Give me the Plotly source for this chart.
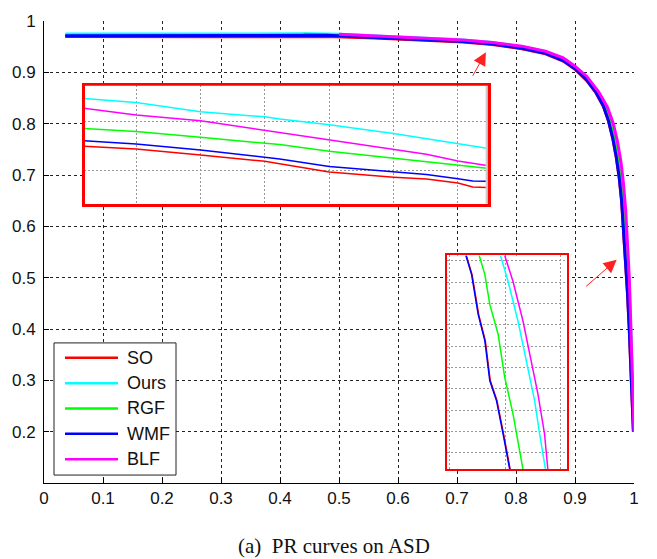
import plotly.graph_objects as go

# ---------------- data ----------------
names = ["SO", "Ours", "RGF", "WMF", "BLF"]
colors = ["#ff0000", "#00ffff", "#00ff00", "#0000ff", "#ff00ff"]

# main PR curves (recall, precision)
so_r = [0.036, 0.12, 0.20, 0.30, 0.40, 0.48, 0.56, 0.64, 0.71, 0.76, 0.81, 0.85, 0.88, 0.90, 0.92, 0.935,
        0.948, 0.957, 0.964, 0.970, 0.975, 0.979, 0.982, 0.985, 0.989, 0.992, 0.995, 0.997, 0.999]
so_p = [0.9700, 0.9695, 0.9690, 0.9692, 0.9695, 0.9700, 0.967, 0.963, 0.959, 0.954, 0.946, 0.936, 0.922, 0.906,
        0.884, 0.861, 0.834, 0.804, 0.771, 0.734, 0.694, 0.649, 0.599, 0.544, 0.469, 0.399, 0.319, 0.249, 0.200]

ours_r = [0.036, 0.15, 0.16, 0.30, 0.45, 0.50, 0.56, 0.64, 0.71, 0.76, 0.81, 0.85, 0.88, 0.90, 0.92, 0.938,
          0.952, 0.962, 0.969, 0.975, 0.980, 0.984, 0.987, 0.990, 0.993, 0.995, 0.997, 0.999, 1.0]
ours_p = [0.9745, 0.9745, 0.9755, 0.9755, 0.9750, 0.9740, 0.971, 0.967, 0.963, 0.958, 0.950, 0.940, 0.927, 0.911,
          0.890, 0.864, 0.836, 0.805, 0.772, 0.733, 0.690, 0.640, 0.590, 0.530, 0.455, 0.385, 0.305, 0.240, 0.200]

rgf_r = [0.44, 0.50, 0.56, 0.64, 0.71, 0.76, 0.81, 0.85, 0.88, 0.90, 0.92, 0.937, 0.950, 0.960, 0.967,
         0.973, 0.978, 0.982, 0.985, 0.988, 0.991, 0.994, 0.996, 0.998, 0.9995]
rgf_p = [0.9740, 0.972, 0.969, 0.965, 0.961, 0.956, 0.948, 0.938, 0.925, 0.909, 0.888, 0.862, 0.835, 0.805,
         0.772, 0.735, 0.690, 0.645, 0.595, 0.540, 0.465, 0.390, 0.310, 0.245, 0.200]

wmf_r = [0.036, 0.12, 0.16, 0.30, 0.40, 0.48, 0.56, 0.64, 0.71, 0.76, 0.81, 0.85, 0.88, 0.90, 0.92, 0.935,
         0.948, 0.957, 0.964, 0.970, 0.975, 0.979, 0.982, 0.985, 0.989, 0.992, 0.995, 0.997, 0.999]
wmf_p = [0.9715, 0.9715, 0.9725, 0.9725, 0.9725, 0.9720, 0.968, 0.964, 0.960, 0.955, 0.947, 0.937, 0.923, 0.907,
         0.885, 0.862, 0.835, 0.805, 0.772, 0.735, 0.695, 0.650, 0.600, 0.545, 0.470, 0.400, 0.320, 0.250, 0.200]

blf_r = [0.50, 0.56, 0.64, 0.71, 0.76, 0.81, 0.85, 0.88, 0.90, 0.92, 0.94, 0.955, 0.965, 0.972, 0.978,
         0.982, 0.986, 0.989, 0.992, 0.994, 0.996, 0.998, 0.999, 1.0]
blf_p = [0.9740, 0.971, 0.967, 0.963, 0.958, 0.951, 0.941, 0.928, 0.912, 0.892, 0.862, 0.832, 0.800, 0.765,
         0.725, 0.685, 0.630, 0.570, 0.500, 0.430, 0.350, 0.270, 0.230, 0.200]

# zoomed inset 1 (top) : recall 0.692 - 0.755
in1_r = [0.6919, 0.70, 0.71, 0.72, 0.7223, 0.73, 0.74, 0.7451, 0.75, 0.7523, 0.7545]
in1_so = [0.96298, 0.96287, 0.96262, 0.96236, 0.96226, 0.96192, 0.96171, 0.96163, 0.96147, 0.96131, 0.96128]
in1_ours = [0.96495, 0.96478, 0.96440, 0.96419, 0.96410, 0.96387, 0.96351, 0.96330, 0.96307, 0.96298, 0.96290]
in1_rgf = [0.96371, 0.96359, 0.96335, 0.96310, 0.96305, 0.96278, 0.96249, 0.96235, 0.96219, 0.96213, 0.96208]
in1_wmf = [0.96321, 0.96307, 0.96283, 0.96253, 0.96246, 0.96215, 0.96192, 0.96182, 0.96164, 0.96155, 0.96154]
in1_blf = [0.96454, 0.96427, 0.96403, 0.96364, 0.96354, 0.96324, 0.96287, 0.96265, 0.96237, 0.96227, 0.96219]

# zoomed inset 2 (right) : precision 0.452 - 0.552
in2_so_r = [0.98152, 0.98204, 0.98263, 0.98323, 0.98367, 0.98427, 0.98486, 0.98546]
in2_so_p = [0.55247, 0.54349, 0.52488, 0.51247, 0.49386, 0.48456, 0.46907, 0.45233]
in2_wmf_r = [0.98149, 0.98200, 0.98259, 0.98319, 0.98363, 0.98423, 0.98482, 0.98542]
in2_wmf_p = [0.55247, 0.54349, 0.52488, 0.51247, 0.49386, 0.48456, 0.46907, 0.45233]
in2_rgf_r = [0.98268, 0.98319, 0.98363, 0.98438, 0.98497, 0.98571, 0.98661]
in2_rgf_p = [0.55247, 0.54349, 0.52953, 0.51558, 0.49542, 0.47837, 0.45233]
in2_ours_r = [0.98459, 0.98527, 0.98616, 0.98691, 0.98765, 0.98810, 0.98863]
in2_ours_p = [0.55247, 0.54037, 0.52177, 0.50316, 0.48456, 0.46907, 0.45233]
in2_blf_r = [0.98497, 0.98571, 0.98661, 0.98736, 0.98795, 0.98854, 0.98884]
in2_blf_p = [0.55247, 0.54037, 0.52177, 0.50316, 0.48767, 0.46907, 0.45233]

x_ticks = [0, 0.1, 0.2, 0.3, 0.4, 0.5, 0.6, 0.7, 0.8, 0.9, 1]
x_tick_text = ["0", "0.1", "0.2", "0.3", "0.4", "0.5", "0.6", "0.7", "0.8", "0.9", "1"]
y_ticks = [0.2, 0.3, 0.4, 0.5, 0.6, 0.7, 0.8, 0.9, 1]
y_tick_text = ["0.2", "0.3", "0.4", "0.5", "0.6", "0.7", "0.8", "0.9", "1"]
caption = "(a)\u00a0\u00a0PR curves on ASD"

# ---------------- figure ----------------
fig = go.Figure()

main = [(so_r, so_p), (ours_r, ours_p), (rgf_r, rgf_p), (wmf_r, wmf_p), (blf_r, blf_p)]
for (r, p), n, c in zip(main, names, colors):
    fig.add_trace(go.Scatter(x=r, y=p, mode="lines", name=n, showlegend=False,
                             line=dict(color=c, width=3), xaxis="x", yaxis="y"))

in1 = [in1_so, in1_ours, in1_rgf, in1_wmf, in1_blf]
for p, c in zip(in1, colors):
    fig.add_trace(go.Scatter(x=in1_r, y=p, mode="lines", showlegend=False,
                             line=dict(color=c, width=1.5), xaxis="x2", yaxis="y2"))

in2 = [(in2_so_r, in2_so_p), (in2_ours_r, in2_ours_p), (in2_rgf_r, in2_rgf_p),
       (in2_wmf_r, in2_wmf_p), (in2_blf_r, in2_blf_p)]
for (r, p), c in zip(in2, colors):
    fig.add_trace(go.Scatter(x=r, y=p, mode="lines", showlegend=False,
                             line=dict(color=c, width=1.5), xaxis="x3", yaxis="y3"))

font_axis = dict(family="Liberation Sans, Arial, sans-serif", size=17, color="#111")
grid_main = dict(showgrid=True, gridcolor="#222", gridwidth=1, griddash="3px,3px")
inset_axis = dict(showgrid=True, gridcolor="#999", gridwidth=1, griddash="2px,2px",
                  showline=True, linecolor="#ff0000", linewidth=2, mirror=True,
                  showticklabels=False, ticks="", zeroline=False)

fig.update_layout(
    width=657, height=559,
    margin=dict(l=44, r=23, t=18, b=76),
    plot_bgcolor="white", paper_bgcolor="white",
    font=font_axis,
    showlegend=False,
    xaxis=dict(range=[0, 1], tickvals=x_ticks, ticktext=x_tick_text, showline=True,
               linecolor="black", linewidth=1, ticks="inside", ticklen=5, tickcolor="black",
               zeroline=False, tickfont=font_axis, **grid_main),
    yaxis=dict(range=[0.1, 1], tickvals=y_ticks, ticktext=y_tick_text, showline=True,
               linecolor="black", linewidth=1, ticks="inside", ticklen=5, tickcolor="black",
               zeroline=False, tickfont=font_axis, ticklabelstandoff=4, **grid_main),
    xaxis2=dict(domain=[0.0678, 0.754], anchor="y2", range=[0.6919, 0.7548], dtick=0.01, tick0=0.70,
                **inset_axis),
    yaxis2=dict(domain=[0.602, 0.862], anchor="x2", range=[0.96057, 0.96551], dtick=0.002, tick0=0.962,
                **inset_axis),
    xaxis3=dict(domain=[0.6836, 0.887], anchor="y3", range=[0.97982, 0.99059], dtick=0.005, tick0=0.98,
                **inset_axis),
    yaxis3=dict(domain=[0.0295, 0.4925], anchor="x3", range=[0.45228, 0.55247], dtick=0.01, tick0=0.46,
                **inset_axis),
)

# light grey strip at right edge of inset 1
fig.add_shape(type="rect", xref="x2 domain", yref="y2 domain", x0=0.992, x1=0.998, y0=0.01, y1=0.99,
              fillcolor="#cccccc", line_width=0, layer="above")
fig.add_shape(type="rect", xref="x2 domain", yref="y2 domain", x0=0, x1=1, y0=0, y1=1,
              line=dict(color="#ff0000", width=2), layer="above")

# legend (MATLAB style: long line samples)
def px_x(px):
    return (px - 44) / 590.0


def px_y(py):
    return (483 - py) / 465.0


fig.add_shape(type="rect", xref="paper", yref="paper", x0=px_x(54), x1=px_x(176), y0=px_y(475), y1=px_y(342),
              fillcolor="white", line=dict(color="#222", width=1), layer="above")
legend_rows = [357, 382.5, 408, 433.5, 459]
for n, c, ry in zip(names, colors, legend_rows):
    fig.add_shape(type="line", xref="paper", yref="paper", x0=px_x(65), x1=px_x(118), y0=px_y(ry), y1=px_y(ry),
                  line=dict(color=c, width=2.5), layer="above")
    fig.add_annotation(text=n, xref="paper", yref="paper", x=px_x(125), y=px_y(ry), xanchor="left",
                       yanchor="middle", showarrow=False,
                       font=dict(family="Liberation Sans, Arial, sans-serif", size=18, color="#111"))

# arrows
fig.add_annotation(x=0.749, y=0.939, xref="x", yref="y", ax=-14, ay=25, text="",
                   showarrow=True, arrowhead=2, arrowsize=2.6, arrowwidth=1, arrowcolor="#ff2020")
fig.add_annotation(x=0.9706, y=0.535, xref="x", yref="y", ax=-32, ay=28, text="",
                   showarrow=True, arrowhead=2, arrowsize=2.6, arrowwidth=1, arrowcolor="#ff2020")

# caption
fig.add_annotation(text=caption, xref="paper", yref="paper", x=px_x(334), y=px_y(546), yanchor="middle",
                   showarrow=False, font=dict(family="Liberation Serif, Times New Roman, serif",
                                              size=21, color="#111"))

fig.write_html("out.html")
